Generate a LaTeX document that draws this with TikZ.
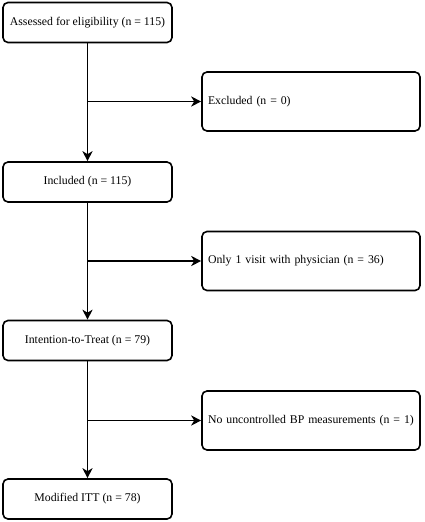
\documentclass[tikz,border=0pt]{standalone}
\usepackage{fontspec}
\setmainfont{Liberation Serif}
\usetikzlibrary{arrows.meta,positioning}

\tikzset{
  stagebox/.style={rectangle, rounded corners=5pt, draw, line width=1.6pt,
    minimum width=169pt, minimum height=40pt, align=center,
    font=\fontsize{11.8}{14}\selectfont},
  dropbox/.style={rectangle, rounded corners=5pt, draw, line width=1.6pt,
    minimum width=218pt, minimum height=59pt, text width=206pt, inner xsep=6pt,
    align=left, font=\fontsize{11.8}{14}\selectfont},
  flow/.style={line width=1.8pt, -{Stealth[length=10pt,width=10pt,inset=3pt]}}
}

\begin{document}
\begin{tikzpicture}[x=1pt,y=-1pt]
\useasboundingbox (0,0) rectangle (424,522);

% main stages
\node[stagebox] (assessed) at (87.5,22.5) {Assessed for eligibility (n = 115)};
\node[stagebox] (included) at (87.5,182) {Included (n = 115)};
\node[stagebox] (itt) at (87.5,340.5) {Intention-to-Treat (n = 79)};
\node[stagebox] (mitt) at (87.5,499) {Modified ITT (n = 78)};

% excluded at each step
\node[dropbox] (excluded) at (311,101.5) {Excluded (n = 0)};
\node[dropbox] (onevisit) at (311,261) {Only 1 visit with physician (n = 36)};
\node[dropbox] (nobp) at (311,420.5) {No uncontrolled BP measurements (n = 1)};

\coordinate (b1) at (included.north |- excluded.west);
\coordinate (b2) at (itt.north |- onevisit.west);
\coordinate (b3) at (mitt.north |- nobp.west);

\draw[flow] (assessed) -- (included);
\draw[flow] (included) -- (itt);
\draw[flow] (itt) -- (mitt);
\draw[flow] (b1) -- (excluded);
\draw[flow] (b2) -- (onevisit);
\draw[flow] (b3) -- (nobp);
\end{tikzpicture}
\end{document}
